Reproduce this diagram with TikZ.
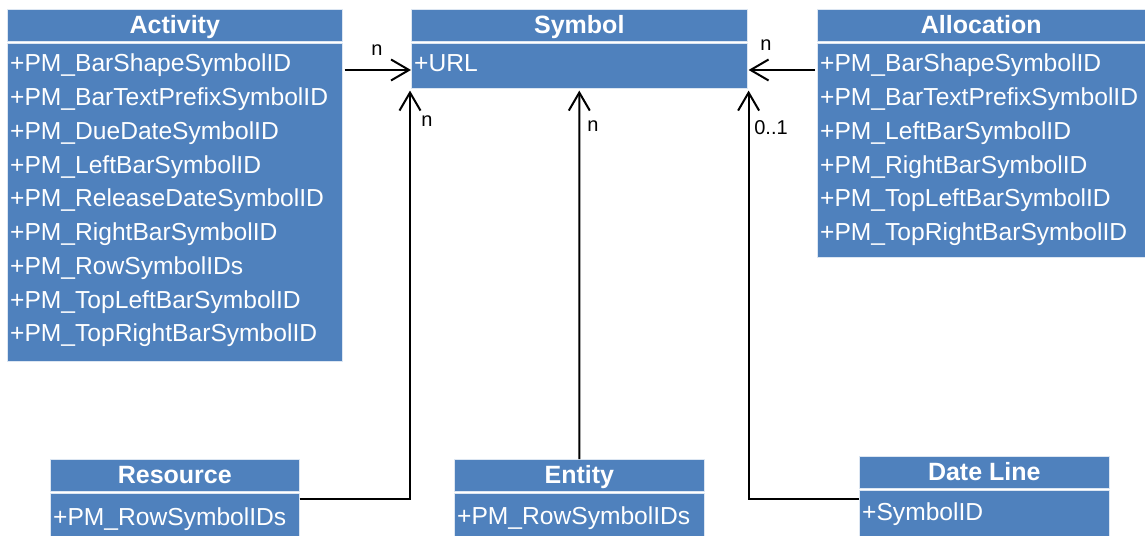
\documentclass[tikz,border=0pt]{standalone}
\usepackage{fontspec}
\setmainfont{Liberation Sans}
\usetikzlibrary{arrows.meta}
\definecolor{boxblue}{HTML}{4F81BD}
\begin{document}
\begin{tikzpicture}[x=1bp,y=-1bp,
  part/.style={fill=boxblue, draw=white!80!boxblue, line width=0.6bp, inner sep=0pt, anchor=north west},
  hdr/.style={part, text=white, font=\fontsize{25bp}{28bp}\selectfont\bfseries, text height=19bp, text depth=3bp},
  attr/.style={text=white, font=\fontsize{24.6bp}{28bp}\selectfont, anchor=base west, inner sep=0pt},
  conn/.style={draw=black, line width=2bp},
  tip/.style={-{Straight Barb[length=18bp,width=21bp,line width=2bp]}},
  mult/.style={font=\fontsize{20bp}{22bp}\selectfont, inner sep=0pt}
]
\useasboundingbox (0,0) rectangle (1145,536);

% Activity
\node[hdr, minimum width=335bp, minimum height=32bp] (acthead) at (7,9) {Activity};
\node[part, minimum width=335bp, minimum height=318bp] (actbody) at (7,43) {};
\foreach \t [count=\i from 0] in {+PM\_BarShapeSymbolID,+PM\_BarTextPrefixSymbolID,+PM\_DueDateSymbolID,+PM\_LeftBarSymbolID,+PM\_ReleaseDateSymbolID,+PM\_RightBarSymbolID,+PM\_RowSymbolIDs,+PM\_TopLeftBarSymbolID,+PM\_TopRightBarSymbolID}
  \node[attr] (act-\i) at (10,{72+33.75*\i}) {\t};

% Symbol
\node[hdr, minimum width=336bp, minimum height=32bp] (symhead) at (411,9) {Symbol};
\node[part, minimum width=336bp, minimum height=45bp] (symbody) at (411,43) {};
\node[attr] (sym-0) at (414,72) {+URL};

% Allocation
\node[hdr, minimum width=328bp, minimum height=32bp] (allhead) at (817,9) {Allocation};
\node[part, minimum width=328bp, minimum height=214bp] (allbody) at (817,43) {};
\foreach \t [count=\i from 0] in {+PM\_BarShapeSymbolID,+PM\_BarTextPrefixSymbolID,+PM\_LeftBarSymbolID,+PM\_RightBarSymbolID,+PM\_TopLeftBarSymbolID,+PM\_TopRightBarSymbolID}
  \node[attr] (all-\i) at (820,{72+33.75*\i}) {\t};

% Resource
\node[hdr, minimum width=249bp, minimum height=32bp] (reshead) at (50,459) {Resource};
\node[part, minimum width=249bp, minimum height=43bp] (resbody) at (50,493) {};
\node[attr] (res-0) at (53,525) {+PM\_RowSymbolIDs};

% Entity
\node[hdr, minimum width=250bp, minimum height=32bp] (enthead) at (454,459) {Entity};
\node[part, minimum width=250bp, minimum height=43bp] (entbody) at (454,493) {};
\node[attr] (ent-0) at (457,524) {+PM\_RowSymbolIDs};

% DateLine
\node[hdr, minimum width=250bp, minimum height=32bp] (dlhead) at (859,456) {Date Line};
\node[part, minimum width=250bp, minimum height=46bp] (dlbody) at (859,490) {};
\node[attr] (dl-0) at (862,520) {+SymbolID};

% Connectors
\draw[conn, tip] ([xshift=2bp,yshift=-27bp]actbody.north east) -- ([yshift=-27bp]symbody.north west);
\draw[conn, tip] ([xshift=-2bp,yshift=-27bp]allbody.north west) -- ([xshift=1bp,yshift=-27bp]symbody.north east);
\draw[conn, tip] ([yshift=-6bp]resbody.north east) -| ([xshift=-1bp,yshift=-2bp]symbody.south west);
\draw[conn, tip] (enthead.north) -- ([yshift=-2bp]symbody.south);
\draw[conn, tip] ([yshift=-9bp]dlbody.north west) -| ([xshift=1bp,yshift=-2bp]symbody.south east);

% Multiplicities
\node[mult] (m1) at (377,50) {n};
\node[mult] (m2) at (766,45) {n};
\node[mult] (m3) at (427,121) {n};
\node[mult] (m4) at (593,126) {n};
\node[mult] (m5) at (771,128) {0..1};
\end{tikzpicture}
\end{document}
